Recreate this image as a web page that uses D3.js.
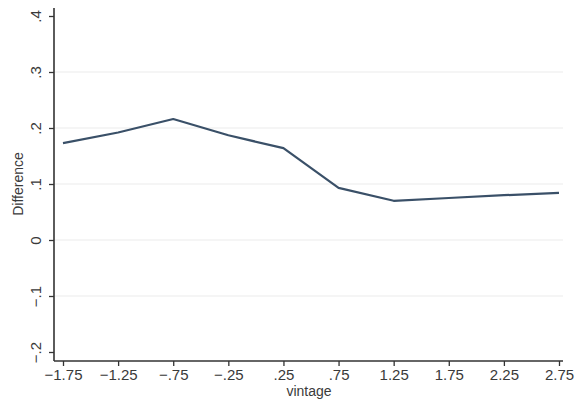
<!DOCTYPE html>
<html>
<head>
<meta charset="utf-8">
<script src="https://cdn.jsdelivr.net/npm/d3@7"></script>
<style>
  body { margin: 0; background: #fff; }
  text { font-family: "Liberation Sans", Arial, sans-serif; fill: #3a3a3a; }
</style>
</head>
<body>
<div id="chart"></div>
<script>
var width = 579;
var height = 403;

var vintage = [-1.75, -1.25, -0.75, -0.25, 0.25, 0.75, 1.25, 1.75, 2.25, 2.75];
var difference = [0.173, 0.192, 0.216, 0.187, 0.164, 0.093, 0.070, 0.075, 0.080, 0.084];
var xTicks = [-1.75, -1.25, -0.75, -0.25, 0.25, 0.75, 1.25, 1.75, 2.25, 2.75];
var xTickLabels = ["\u22121.75", "\u22121.25", "\u2212.75", "\u2212.25", ".25", ".75", "1.25", "1.75", "2.25", "2.75"];
var yTicks = [-0.2, -0.1, 0, 0.1, 0.2, 0.3, 0.4];
var yTickLabels = ["\u2212.2", "\u2212.1", "0", ".1", ".2", ".3", ".4"];

var svg = d3.select("#chart").append("svg")
    .attr("width", width)
    .attr("height", height);

var x = d3.scaleLinear()
    .domain([-1.75, 2.75])
    .range([63, 559]);

var y = d3.scaleLinear()
    .domain([-0.2, 0.4])
    .range([352, 16]);

// gridlines
svg.selectAll("line.grid")
    .data(yTicks.filter(function(d){ return d > -0.2 && d < 0.4; }))
  .enter().append("line")
    .attr("class", "grid")
    .attr("x1", 55)
    .attr("x2", 563)
    .attr("y1", function(d){ return y(d); })
    .attr("y2", function(d){ return y(d); })
    .attr("stroke", "#ececec")
    .attr("stroke-width", 1.2);

// y axis
var yAxis = d3.axisLeft(y)
    .tickValues(yTicks)
    .tickSize(5)
    .tickFormat(function(d, i){ return yTickLabels[i]; });

var gy = svg.append("g")
    .attr("transform", "translate(54,0)")
    .call(yAxis);
gy.select(".domain").attr("d", "M0,8V361").attr("stroke", "#333").attr("stroke-width", 1.6);
gy.selectAll(".tick line").attr("stroke", "#333").attr("stroke-width", 1.3);
gy.selectAll(".tick text")
    .attr("x", 0).attr("dy", null)
    .attr("transform", "translate(-13,0) rotate(-90)")
    .attr("text-anchor", "middle")
    .style("font-size", "15px")
    .attr("fill", "#3a3a3a");

// x axis
var xAxis = d3.axisBottom(x)
    .tickValues(xTicks)
    .tickSize(5)
    .tickFormat(function(d, i){ return xTickLabels[i]; });

var gx = svg.append("g")
    .attr("transform", "translate(0,361)")
    .call(xAxis);
gx.select(".domain").attr("d", "M54,0H563").attr("stroke", "#333").attr("stroke-width", 1.6);
gx.selectAll(".tick line").attr("stroke", "#333").attr("stroke-width", 1.3);
gx.selectAll(".tick text")
    .attr("y", 8)
    .style("font-size", "15px")
    .attr("fill", "#3a3a3a");

// line
var line = d3.line()
    .x(function(d, i){ return x(vintage[i]); })
    .y(function(d){ return y(d); });

svg.append("path")
    .datum(difference)
    .attr("d", line)
    .attr("fill", "none")
    .attr("stroke", "#3a5068")
    .attr("stroke-width", 2.2)
    .attr("stroke-linejoin", "round");

// axis titles
svg.append("text")
    .attr("x", 309)
    .attr("y", 396)
    .attr("text-anchor", "middle")
    .style("font-size", "14px")
    .text("vintage");

svg.append("text")
    .attr("transform", "translate(23,184) rotate(-90)")
    .attr("text-anchor", "middle")
    .style("font-size", "14px")
    .text("Difference");
</script>
</body>
</html>
